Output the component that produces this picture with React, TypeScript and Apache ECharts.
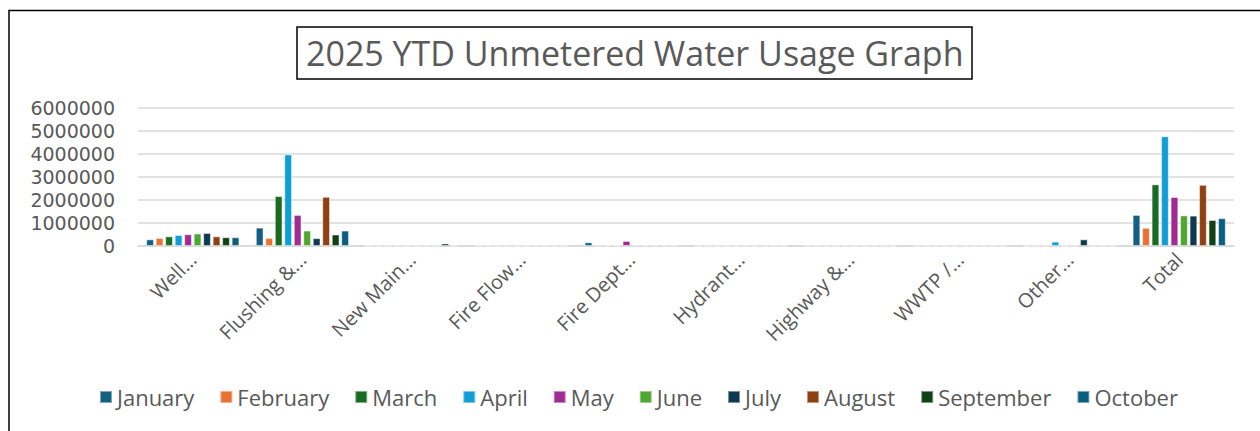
import React, { useEffect, useRef } from "react";
import * as echarts from "echarts";

const categories = [
  "Well…",
  "Flushing &…",
  "New Main…",
  "Fire Flow…",
  "Fire Dept…",
  "Hydrant…",
  "Highway &…",
  "WWTP /…",
  "Other…",
  "Total",
];

const months = [
  "January",
  "February",
  "March",
  "April",
  "May",
  "June",
  "July",
  "August",
  "September",
  "October",
];

const colors = [
  "#156082",
  "#E97132",
  "#196B24",
  "#0F9ED5",
  "#A02B93",
  "#4EA72E",
  "#0E3A50",
  "#8F4114",
  "#0F4016",
  "#0A5F80",
];

// values per month, in category order
const january = [290000, 800000, 0, 20000, 160000, 0, 0, 0, 0, 1350000];
const february = [350000, 350000, 0, 0, 30000, 0, 0, 0, 0, 790000];
const march = [420000, 2170000, 0, 0, 20000, 0, 0, 0, 0, 2680000];
const april = [480000, 3980000, 0, 0, 30000, 0, 0, 0, 190000, 4770000];
const may = [510000, 1350000, 0, 0, 220000, 0, 0, 0, 0, 2130000];
const june = [540000, 670000, 0, 0, 30000, 0, 0, 0, 0, 1330000];
const july = [570000, 340000, 0, 0, 30000, 0, 0, 0, 290000, 1320000];
const august = [420000, 2140000, 0, 0, 30000, 0, 0, 0, 0, 2660000];
const september = [380000, 500000, 110000, 0, 30000, 0, 0, 0, 0, 1130000];
const october = [380000, 670000, 20000, 0, 30000, 0, 0, 0, 0, 1210000];

const seriesValues = [january, february, march, april, may, june, july, august, september, october];

const yTicks = [0, 1000000, 2000000, 3000000, 4000000, 5000000, 6000000];

const FONT = "'Open Sans', 'Noto Sans', sans-serif";
const YFONT = "'DejaVu Sans', 'Liberation Sans', sans-serif";

export default function App() {
  const ref = useRef<HTMLDivElement>(null);

  useEffect(() => {
    document.body.style.margin = "0";
    if (!ref.current) return;
    const chart = echarts.init(ref.current, undefined, { renderer: "svg" });
    chart.setOption({
      animation: false,
      backgroundColor: "#ffffff",
      color: colors,
      title: {
        text: "2025 YTD Unmetered Water Usage Graph",
        left: 297,
        top: 27,
        padding: [4, 9, 4, 9],
        borderColor: "#000000",
        borderWidth: 1.5,
        textStyle: {
          fontFamily: FONT,
          fontSize: 34,
          fontWeight: "normal",
          color: "#595959",
          lineHeight: 44,
        },
      },
      graphic: [
        {
          type: "polyline",
          shape: { points: [[9, 431], [9, 10.5], [1260, 10.5]] },
          style: { stroke: "#000000", lineWidth: 1.5, fill: "none" },
          silent: true,
        },
      ],
      legend: {
        data: months,
        left: 94,
        top: 381,
        itemWidth: 12,
        itemHeight: 12,
        itemGap: 25,
        icon: "rect",
        textStyle: { fontFamily: FONT, fontSize: 22, color: "#595959" },
      },
      grid: { left: 138, right: 26, top: 108, bottom: 185, containLabel: false },
      xAxis: {
        type: "category",
        data: categories,
        axisLine: { show: true, lineStyle: { color: "#d9d9d9", width: 1.5 } },
        axisTick: { show: false },
        axisLabel: {
          rotate: 45,
          interval: 0,
          margin: 10,
          fontFamily: FONT,
          fontSize: 20,
          color: "#595959",
        },
      },
      yAxis: {
        type: "value",
        min: yTicks[0],
        max: yTicks[yTicks.length - 1],
        interval: yTicks[1] - yTicks[0],
        axisLine: { show: false },
        axisTick: { show: false },
        splitLine: { lineStyle: { color: "#d9d9d9", width: 1.5 } },
        axisLabel: {
          margin: 23,
          fontFamily: YFONT,
          fontSize: 19,
          lineHeight: 20,
          color: "#595959",
          formatter: (v: number) => String(v),
        },
      },
      series: months.map((m, i) => ({
        name: m,
        type: "bar",
        data: seriesValues[i],
        barGap: "23%",
        barCategoryGap: "15%",
        itemStyle: { color: colors[i], borderColor: "rgba(255,255,255,0.45)", borderWidth: 1 },
      })),
    });
    return () => chart.dispose();
  }, []);

  return <div ref={ref} style={{ width: 1260, height: 431 }} />;
}
